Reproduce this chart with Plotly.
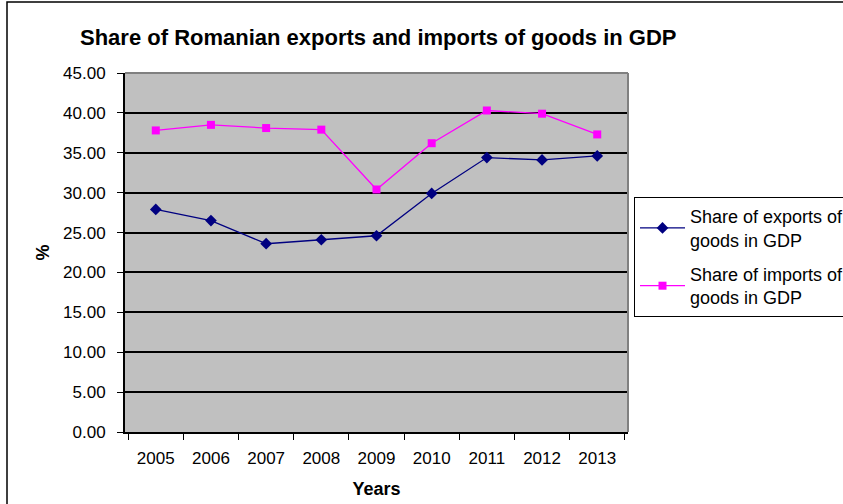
import plotly.graph_objects as go

years = ["2005", "2006", "2007", "2008", "2009", "2010", "2011", "2012", "2013"]
exports_share = [27.9, 26.5, 23.6, 24.1, 24.6, 29.9, 34.4, 34.1, 34.6]
imports_share = [37.8, 38.5, 38.1, 37.9, 30.4, 36.2, 40.3, 39.9, 37.3]
y_ticks = [0, 5, 10, 15, 20, 25, 30, 35, 40, 45]

font = "Liberation Sans, Arial, sans-serif"

fig = go.Figure()
fig.add_trace(go.Scatter(
    x=years, y=exports_share, mode="lines+markers",
    name="Share of exports of<br>goods in GDP", legendgroup="exports",
    line=dict(color="#000080", width=1.3),
    marker=dict(symbol="diamond", size=9, color="#000080"),
))
fig.add_trace(go.Scatter(
    x=years, y=imports_share, mode="lines+markers",
    name="Share of imports of<br>goods in GDP", legendgroup="imports",
    line=dict(color="#FF00FF", width=1.3),
    marker=dict(symbol="square", size=8, color="#FF00FF"),
))

# outer chart border (runs off the right and bottom edges)
fig.add_shape(type="rect", xref="paper", yref="paper",
              x0=-118 / 503, x1=1.5, y0=-0.5, y1=(432 - 2) / 359,
              line=dict(color="black", width=1.5), layer="below")
# plot area right/top border
fig.add_shape(type="line", xref="paper", yref="paper", x0=1, x1=1, y0=0, y1=1,
              line=dict(color="#808080", width=2))
fig.add_shape(type="line", xref="paper", yref="paper", x0=0, x1=1, y0=1, y1=1,
              line=dict(color="#808080", width=2))

fig.update_layout(
    width=843, height=504,
    margin=dict(l=125, r=215, t=73, b=72, autoexpand=False),
    paper_bgcolor="white",
    plot_bgcolor="#C0C0C0",
    font=dict(family=font, size=17, color="black"),
    title=dict(text="<b>Share of Romanian exports and imports of goods in GDP</b>",
               x=80 / 843, xanchor="left", y=1 - 37 / 504, yanchor="middle",
               font=dict(size=22)),
    xaxis=dict(
        type="category", tickson="boundaries", ticks="outside", ticklen=6,
        tickcolor="black", showline=True, linecolor="black", linewidth=2,
        showgrid=False, tickfont=dict(size=17), ticklabelstandoff=10,
        title=dict(text="<b>Years</b>", font=dict(size=18), standoff=15),
    ),
    yaxis=dict(
        range=[0, 45], tickvals=y_ticks, tickformat=".2f", ticks="outside",
        ticklen=6, tickcolor="black", showline=True, linecolor="black", linewidth=2,
        showgrid=True, gridcolor="black", gridwidth=2, zeroline=False,
        tickfont=dict(size=17), ticklabelstandoff=8,
        title=dict(text="<b>%</b>", font=dict(size=18), standoff=9),
    ),
    legend=dict(
        x=(634 - 125) / 503, xanchor="left", y=(432 - 197) / 359, yanchor="top",
        bordercolor="black", borderwidth=1, bgcolor="white",
        font=dict(size=18), tracegroupgap=8, itemwidth=45,
    ),
    showlegend=True,
)

# remove the page's default body margin so the figure sits at the window origin
fig.write_html("out.html", config={"displayModeBar": False},
               post_script="document.body.style.margin='0';")
